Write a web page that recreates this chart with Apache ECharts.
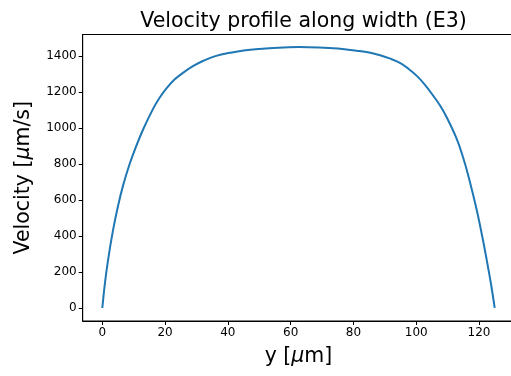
<!DOCTYPE html>
<html>
<head>
<meta charset="utf-8">
<script src="https://cdn.jsdelivr.net/npm/echarts@6/dist/echarts.min.js"></script>
<style>html,body{margin:0;padding:0;background:#fff;}#c{width:511px;height:376px;}</style>
</head>
<body>
<div id="c"></div>
<script>
const positions = [0,0.8,1.8,3.4,5.0,6.6,8.7,10.5,13.1,16.2,18.3,20.5,23,25.8,29,32.2,36,40.7,45,50,56,62.5,69,75,81,85,88.5,91.5,94.8,97.5,100.2,102.8,105.4,107.6,109.7,112.9,114.8,116.6,119.3,121.4,123,124,125];
const velocities = [0,133,263,431,567,680,800,886,996,1108,1170,1222,1270,1308,1345,1374,1400,1418,1431,1440,1447,1450,1448,1442,1430,1420,1405,1387,1362,1330,1290,1240,1180,1125,1060,940,845,735,543,365,215,115,0];
const xTicks = [0,20,40,60,80,100,120];
const yTicks = [0,200,400,600,800,1000,1200,1400];
const titleText = 'Velocity profile along width (E3)';

const data = positions.map((p,i)=>[p, velocities[i]]);
const font = 'DejaVu Sans';
const chart = echarts.init(document.getElementById('c'), null, {renderer:'canvas'});
chart.setOption({
  animation:false,
  backgroundColor:'#fff',
  title:{text:titleText, left:298.5, top:6, textAlign:'center',
    textStyle:{fontFamily:font, fontSize:20.5, fontWeight:'normal', color:'#000'}},
  grid:{left:82.7, right:-3.3, top:34.5, bottom:55, show:true, borderColor:'#000', borderWidth:1, containLabel:false, outerBoundsMode:'none'},
  xAxis:{type:'value', min:-6.25, max:131.25,
    name:'{n|y [}{i|μ}{n|m]}', nameLocation:'middle', nameGap:25,
    nameTextStyle:{rich:{n:{fontFamily:font,fontSize:20.5,color:'#000'}, i:{fontFamily:font,fontSize:20.5,fontStyle:'italic',color:'#000'}}},
    axisLine:{show:true,onZero:false,lineStyle:{color:'#000',width:1}},
    axisTick:{show:true,length:4,customValues:xTicks,lineStyle:{color:'#000',width:1}},
    axisLabel:{customValues:xTicks,formatter:v=>String(v),fontFamily:font,fontSize:12,color:'#000',margin:6},
    splitLine:{show:false}},
  yAxis:{type:'value', min:-72.4, max:1520,
    name:'{n|Velocity [}{i|μ}{n|m/s]}', nameLocation:'middle', nameGap:48.5,
    nameTextStyle:{rich:{n:{fontFamily:font,fontSize:20.5,color:'#000'}, i:{fontFamily:font,fontSize:20.5,fontStyle:'italic',color:'#000'}}},
    axisLine:{show:true,onZero:false,lineStyle:{color:'#000',width:1}},
    axisTick:{show:true,length:4,customValues:yTicks,lineStyle:{color:'#000',width:1}},
    axisLabel:{customValues:yTicks,formatter:v=>String(v),fontFamily:font,fontSize:12,color:'#000',margin:6},
    splitLine:{show:false}},
  series:[{type:'line', data:data, showSymbol:false, smooth:0.4,
    lineStyle:{color:'#1f77b4', width:2}, itemStyle:{color:'#1f77b4'}}]
});
</script>
</body>
</html>
